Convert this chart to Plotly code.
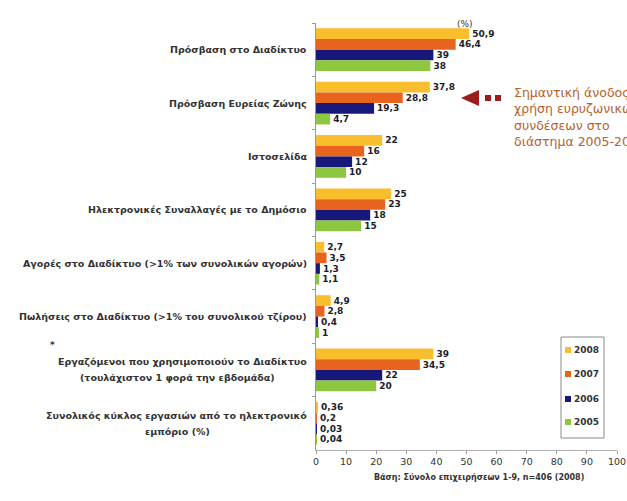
import plotly.graph_objects as go

# Indicators (top to bottom) and yearly shares (%)
categories = [
    "Πρόσβαση στο Διαδίκτυο",
    "Πρόσβαση Ευρείας Ζώνης",
    "Ιστοσελίδα",
    "Ηλεκτρονικές Συναλλαγές με το Δημόσιο",
    "Αγορές στο Διαδίκτυο (>1% των συνολικών αγορών)",
    "Πωλήσεις στο Διαδίκτυο (>1% του συνολικού τζίρου)",
    "Εργαζόμενοι που χρησιμοποιούν το Διαδίκτυο<br>(τουλάχιστον 1 φορά την εβδομάδα)",
    "Συνολικός κύκλος εργασιών από το ηλεκτρονικό<br>εμπόριο (%)",
]
years = ["2008", "2007", "2006", "2005"]
values_2008 = [50.9, 37.8, 22, 25, 2.7, 4.9, 39, 0.36]
values_2007 = [46.4, 28.8, 16, 23, 3.5, 2.8, 34.5, 0.2]
values_2006 = [39, 19.3, 12, 18, 1.3, 0.4, 22, 0.03]
values_2005 = [38, 4.7, 10, 15, 1.1, 1, 20, 0.04]
x_ticks = [0, 10, 20, 30, 40, 50, 60, 70, 80, 90, 100]

series = [values_2008, values_2007, values_2006, values_2005]
colors = ["#F8BE2E", "#E8641E", "#16187A", "#8DC63F"]
label_col = "#333333"

W, H = 627, 501
L, R, T, B = 316, 10, 23, 51
pw, ph = W - L - R, H - T - B


def px_x(p):
    return (p - L) / pw


def px_y(p):
    return (H - B - p) / ph


def fmt(v):
    return ("%g" % v).replace(".", ",")


fig = go.Figure()
for name, vals, col in zip(years, series, colors):
    fig.add_trace(go.Bar(
        y=categories, x=vals, name=name, orientation="h",
        marker=dict(color=col, line=dict(width=0)),
        text=["<b>" + fmt(v) + "</b>" for v in vals], textposition="outside",
        textfont=dict(family="DejaVu Sans", size=9, color="#1c1c2a"),
        constraintext="none", cliponaxis=False, showlegend=False,
    ))

annotations = []
# category labels; multi-line labels are laid out line by line, centred
for cat in categories:
    lines = cat.split("<br>")
    n = len(lines)
    for i, ln in enumerate(lines):
        annotations.append(dict(
            x=px_x(309) if i == 0 else px_x(177), xref="paper", y=cat, yref="y",
            xanchor="right" if i == 0 else "center", yanchor="middle",
            text="<b>" + ln + "</b>", showarrow=False,
            yshift=(n - 1) * 8 - i * 16,
            font=dict(family="DejaVu Sans", size=9.5, color=label_col),
        ))

annotations += [
    dict(x=px_x(48), y=px_y(352), xref="paper", yref="paper", text="<b>*</b>",
         showarrow=False, font=dict(family="DejaVu Sans", size=9, color=label_col)),
    dict(x=px_x(465), y=px_y(17), xref="paper", yref="paper", text="(%)",
         showarrow=False, font=dict(family="DejaVu Sans", size=9, color=label_col)),
    dict(x=px_x(372), y=px_y(484), xref="paper", yref="paper",
         text="<b>Βάση: Σύνολο επιχειρήσεων 1-9, n=406 (2008)</b>",
         showarrow=False, font=dict(family="DejaVu Sans", size=8, color=label_col)),
    # side note on broadband growth
    dict(x=px_x(512), y=px_y(83), xref="paper", yref="paper",
         xanchor="left", yanchor="top", align="left",
         text="Σημαντική άνοδος στη<br>χρήση ευρυζωνικών<br>συνδέσεων στο<br>διάστημα 2005-2008",
         showarrow=False, font=dict(family="DejaVu Sans", size=12.5, color="#B8602C")),
]

arrow_col = "#9E1B1B"
shapes = [
    dict(type="path", xref="paper", yref="paper",
         path="M %f,%f L %f,%f L %f,%f Z" % (px_x(461), px_y(98), px_x(479), px_y(90),
                                            px_x(479), px_y(106)),
         fillcolor=arrow_col, line=dict(width=0)),
    dict(type="rect", xref="paper", yref="paper", x0=px_x(485), x1=px_x(491),
         y0=px_y(101), y1=px_y(95), fillcolor=arrow_col, line=dict(width=0)),
    dict(type="rect", xref="paper", yref="paper", x0=px_x(495), x1=px_x(501),
         y0=px_y(101), y1=px_y(95), fillcolor=arrow_col, line=dict(width=0)),
]

# year key box
shapes.append(dict(type="rect", xref="paper", yref="paper",
                   x0=px_x(561), x1=px_x(604), y0=px_y(438), y1=px_y(337),
                   fillcolor="white", line=dict(color="#8a8a8a", width=1)))
key_y = [350, 374, 399, 422]
for yr, col, ky in zip(years, colors, key_y):
    shapes.append(dict(type="rect", xref="paper", yref="paper",
                       x0=px_x(565), x1=px_x(571), y0=px_y(ky + 3), y1=px_y(ky - 3),
                       fillcolor=col, line=dict(width=0)))
    annotations.append(dict(x=px_x(572), y=px_y(ky), xref="paper", yref="paper",
                            xanchor="left", yanchor="middle", text="<b>" + yr + "</b>",
                            showarrow=False,
                            font=dict(family="DejaVu Sans", size=9, color=label_col)))

fig.update_layout(
    width=W, height=H,
    margin=dict(l=L, r=R, t=T, b=B, autoexpand=False),
    paper_bgcolor="white", plot_bgcolor="white",
    barmode="group", bargap=0.2, bargroupgap=0,
    showlegend=False,
    xaxis=dict(range=[0, 100], tickvals=x_ticks, ticks="outside", ticklen=3,
               tickcolor="#999999", showline=True, linecolor="#b0b0b0", linewidth=1,
               showgrid=False, zeroline=False,
               tickfont=dict(family="DejaVu Sans", size=9.5, color=label_col)),
    yaxis=dict(autorange="reversed", showticklabels=False, ticks="outside",
               tickson="boundaries", ticklen=3, tickcolor="#999999",
               showline=True, linecolor="#9a9a9a", linewidth=1, showgrid=False),
    annotations=annotations, shapes=shapes,
    font=dict(family="DejaVu Sans"),
)

fig.write_html("out.html")
